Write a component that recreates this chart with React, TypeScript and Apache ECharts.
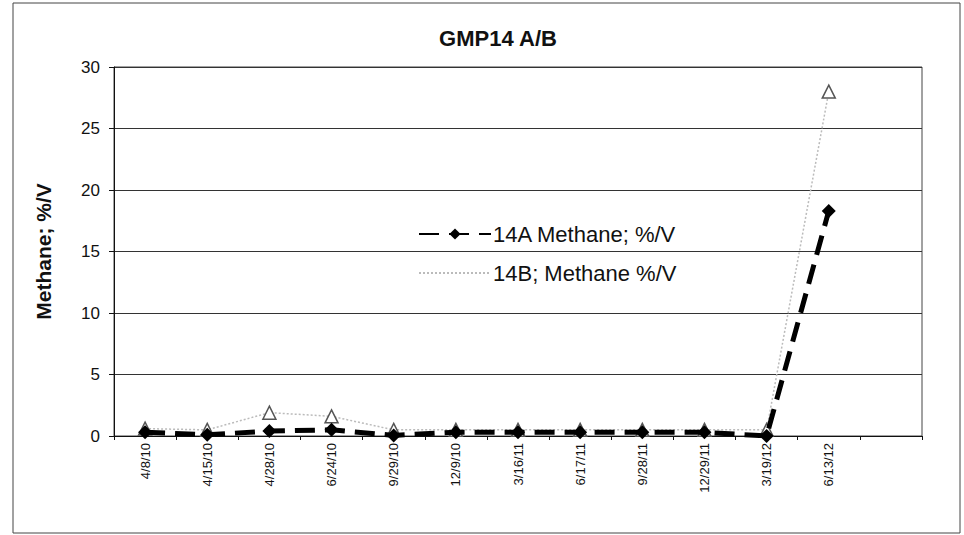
import React, { useEffect, useRef } from "react";
import * as echarts from "echarts";

const categories = ["4/8/10", "4/15/10", "4/28/10", "6/24/10", "9/29/10", "12/9/10", "3/16/11", "6/17/11", "9/28/11", "12/29/11", "3/19/12", "6/13/12", ""];
const series14A = [0.3, 0.1, 0.4, 0.5, 0.05, 0.3, 0.3, 0.3, 0.3, 0.3, 0, 18.3, null];
const series14B = [0.6, 0.5, 1.9, 1.6, 0.5, 0.5, 0.5, 0.5, 0.5, 0.5, 0.5, 28.0, null];
const yTicks = { min: 0, max: 30, interval: 5 };

const FONT = "'Liberation Sans', Arial, sans-serif";

export default function App() {
  const ref = useRef<HTMLDivElement>(null);
  useEffect(() => {
    if (!ref.current) return;
    const chart = echarts.init(ref.current, null, { renderer: "svg" });
    chart.setOption({
      animation: false,
      backgroundColor: "#fff",
      title: {
        text: "GMP14 A/B",
        left: 493,
        top: 22,
        textAlign: "center",
        textStyle: { fontFamily: FONT, fontSize: 22, fontWeight: "bold", color: "#111" },
      },
      graphic: [
        {
          type: "rect",
          shape: { x: 13, y: 3, width: 947, height: 530 },
          style: { fill: "none", stroke: "#444", lineWidth: 1 },
          silent: true,
        },
      ],
      legend: {
        orient: "vertical",
        left: 413,
        top: 218,
        itemWidth: 72,
        itemHeight: 14,
        itemGap: 17,
        textStyle: { fontFamily: FONT, fontSize: 22, color: "#111", padding: [0, 0, 0, -3] },
        data: [
          { name: "14A Methane; %/V" },
          { name: "14B; Methane %/V", itemStyle: { opacity: 0 } },
        ],
      },
      grid: {
        left: 114,
        right: 42,
        top: 67,
        bottom: 99,
        show: true,
        borderColor: "#444",
        borderWidth: 1,
        containLabel: false,
      },
      xAxis: {
        type: "category",
        data: categories,
        boundaryGap: true,
        axisLine: { lineStyle: { color: "#111", width: 1 } },
        axisTick: { show: true, length: 4, lineStyle: { color: "#111" } },
        axisLabel: {
          rotate: 90,
          interval: 0,
          margin: 7,
          fontFamily: FONT,
          fontSize: 13,
          color: "#111",
        },
      },
      yAxis: {
        type: "value",
        min: yTicks.min,
        max: yTicks.max,
        interval: yTicks.interval,
        name: "Methane; %/V",
        nameLocation: "middle",
        nameGap: 60,
        nameTextStyle: { fontFamily: FONT, fontSize: 21, fontWeight: "bold", color: "#111" },
        axisLine: { show: true, lineStyle: { color: "#111", width: 1 } },
        axisTick: { show: true, length: 5, lineStyle: { color: "#111" } },
        axisLabel: { fontFamily: FONT, fontSize: 17, color: "#111", margin: 14 },
        splitLine: { show: true, lineStyle: { color: "#333", width: 1 } },
      },
      series: [
        {
          name: "14B; Methane %/V",
          type: "line",
          data: series14B,
          symbol: "triangle",
          symbolSize: 13,
          lineStyle: { color: "#bbbbbb", width: 1.5, type: [2, 2] },
          itemStyle: { color: "#ffffff", borderColor: "#555", borderWidth: 1.5 },
          z: 2,
        },
        {
          name: "14A Methane; %/V",
          type: "line",
          data: series14A,
          symbol: "diamond",
          symbolSize: 14,
          lineStyle: { color: "#000", width: 5, type: [20, 10] },
          itemStyle: { color: "#000" },
          z: 3,
        },
      ],
    });
    return () => chart.dispose();
  }, []);
  return (
    <div style={{ position: "absolute", left: 0, top: 0, width: 964, height: 535 }}>
      <div ref={ref} style={{ width: 964, height: 535 }} />
    </div>
  );
}
